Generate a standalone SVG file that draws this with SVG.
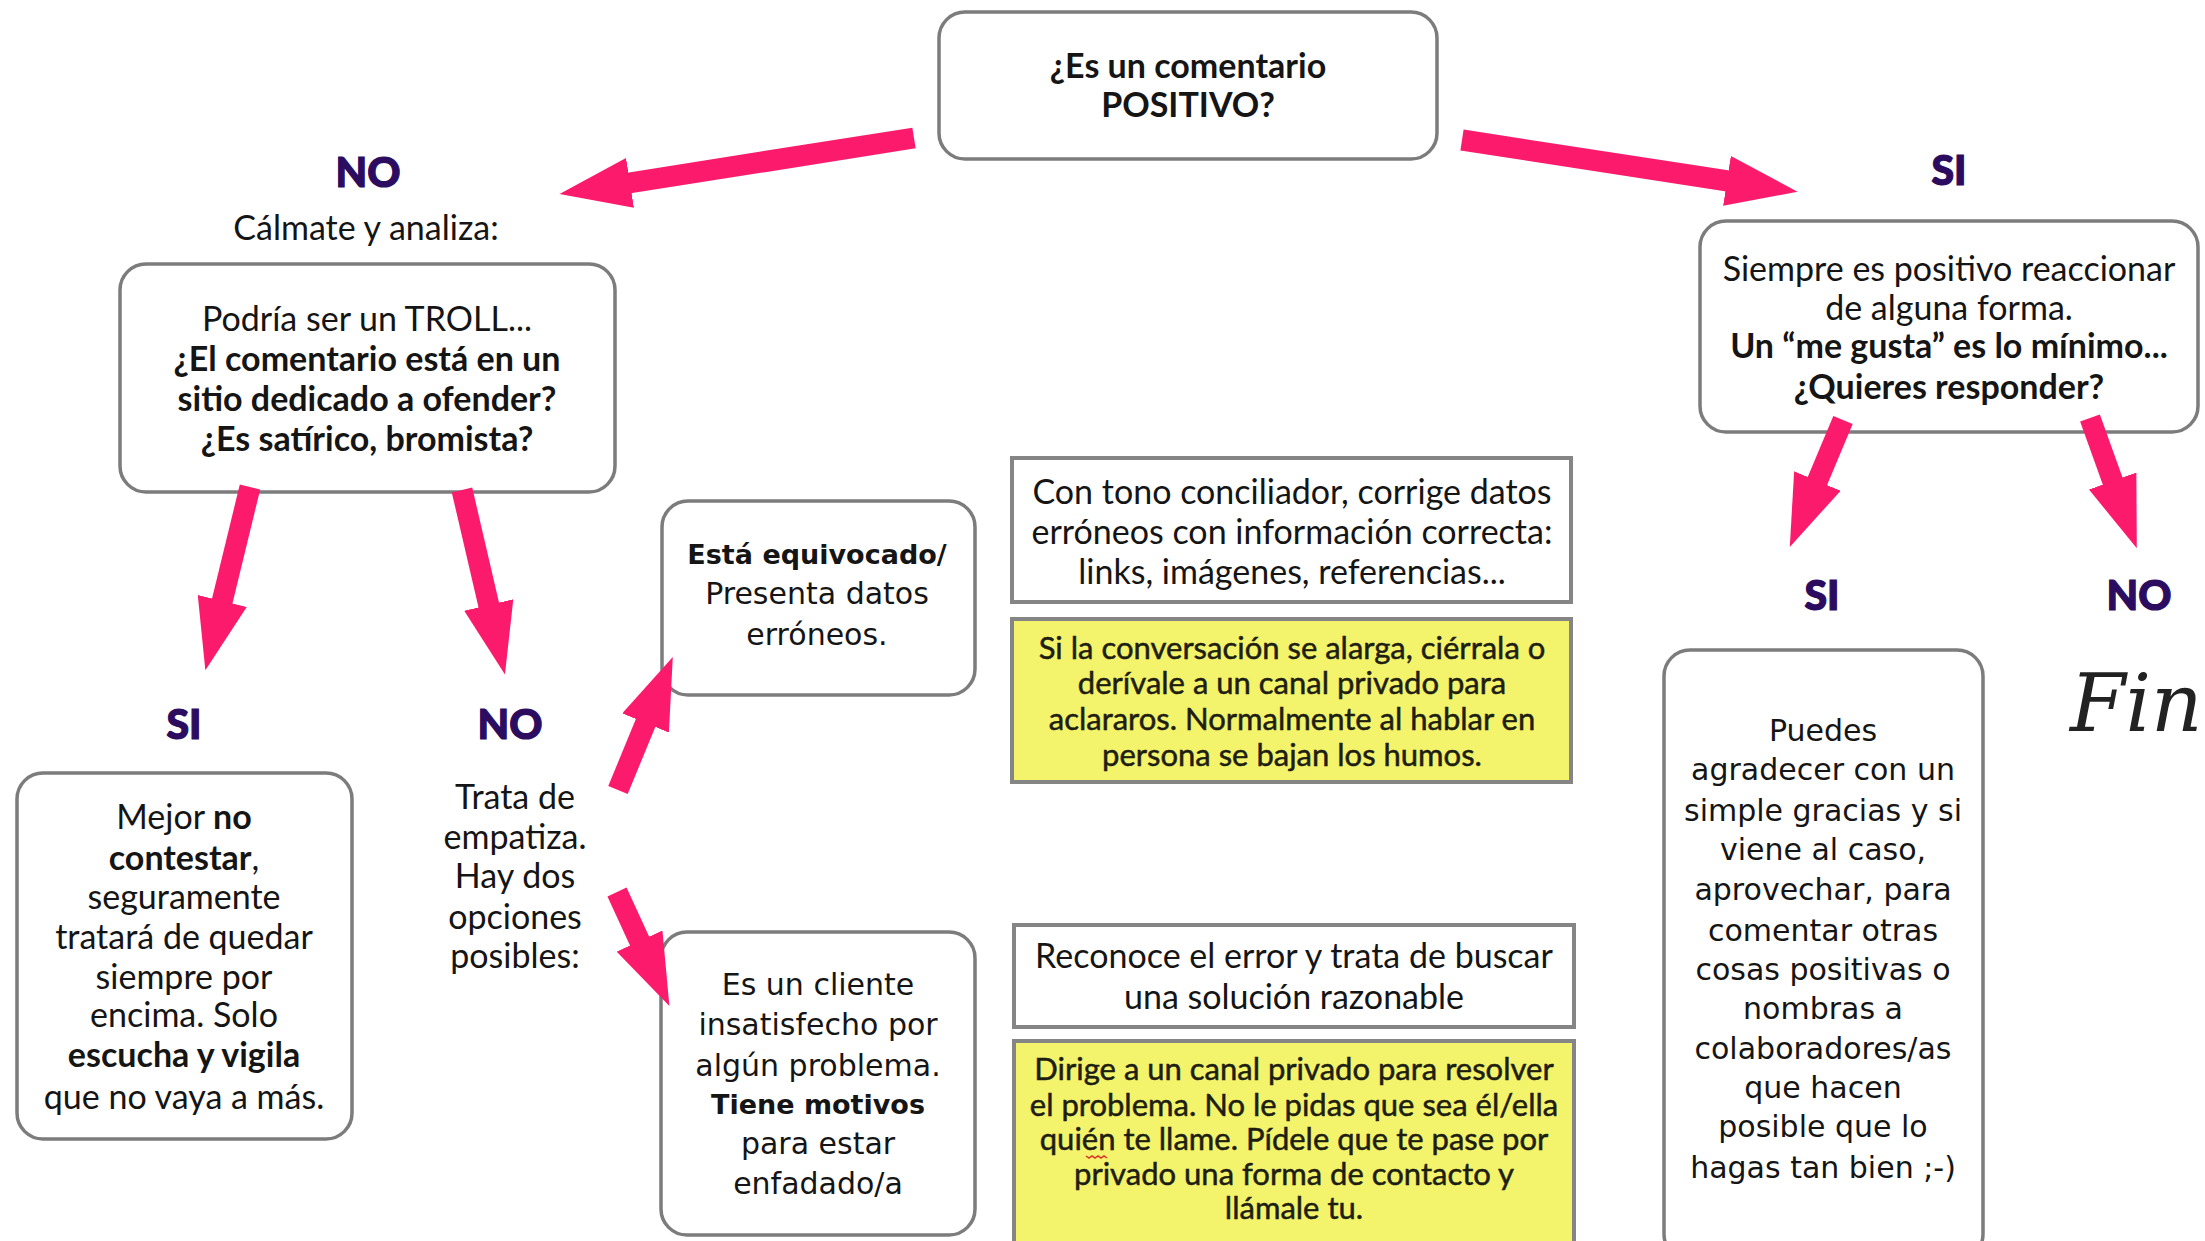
<svg xmlns="http://www.w3.org/2000/svg" width="2205" height="1241" viewBox="0 0 2205 1241">
<defs>
<style>
.box{fill:#fff;stroke:#7c7c7c;stroke-width:3.5}
.sq{fill:#fff;stroke:#858585;stroke-width:4}
.yel{fill:#F3F36C;stroke:#858585;stroke-width:4}
.t{font-family:Lato,'Liberation Sans',sans-serif;font-size:34px;fill:#151515;text-anchor:middle}
.v{font-family:'DejaVu Sans',Verdana,sans-serif;font-size:30px;fill:#151515;text-anchor:middle}
.v.b{font-size:27px}
.y{font-family:Lato,'Liberation Sans',sans-serif;font-size:31px;fill:#1e1e10;stroke:#1e1e10;stroke-width:0.5;text-anchor:middle}
.b{font-weight:700}
.lbl{font-family:Lato,'Liberation Sans',sans-serif;font-weight:900;font-size:41px;fill:#2B0C5F;stroke:#2B0C5F;stroke-width:1.2;text-anchor:middle}
.arr{stroke:#FC1A6C;stroke-width:21;fill:none;marker-end:url(#head)}
</style>
<marker id="head" markerUnits="strokeWidth" viewBox="0 0 3.4 2.4" markerWidth="3.4" markerHeight="2.4" refX="0.05" refY="1.2" orient="auto">
<path d="M0,0 L3.4,1.2 L0,2.4 z" fill="#FC1A6C"/>
</marker>
</defs>
<rect width="2205" height="1241" fill="#fff"/>

<g id="q-positivo">
<rect class="box" x="939" y="12" width="498" height="147" rx="26"/>
<text class="t b" x="1188" y="78">¿Es un comentario</text>
<text class="t b" x="1188" y="117">POSITIVO?</text>
</g>

<g id="lbl-no-top">
<text class="lbl" x="368" y="187">NO</text>
<text class="t" x="366" y="240">Cálmate y analiza:</text>
</g>

<g id="troll">
<rect class="box" x="120" y="264" width="495" height="228" rx="26"/>
<text class="t" x="367" y="331">Podría ser un TROLL...</text>
<text class="t b" x="367" y="371">¿El comentario está en un</text>
<text class="t b" x="367" y="411">sitio dedicado a ofender?</text>
<text class="t b" x="367" y="451">¿Es satírico, bromista?</text>
</g>

<g id="lbl-si-left"><text class="lbl" x="184" y="739">SI</text></g>
<g id="lbl-no-left"><text class="lbl" x="510" y="739">NO</text></g>

<g id="mejor-no">
<rect class="box" x="17" y="773" width="335" height="366" rx="26"/>
<text class="t" x="184" y="829">Mejor <tspan class="b">no</tspan></text>
<text class="t" x="184" y="870"><tspan class="b">contestar</tspan>,</text>
<text class="t" x="184" y="909">seguramente</text>
<text class="t" x="184" y="949">tratará de quedar</text>
<text class="t" x="184" y="989">siempre por</text>
<text class="t" x="184" y="1027">encima. Solo</text>
<text class="t b" x="184" y="1067">escucha y vigila</text>
<text class="t" x="184" y="1109">que no vaya a más.</text>
</g>

<g id="trata">
<text class="t" x="515" y="809">Trata de</text>
<text class="t" x="515" y="849">empatiza.</text>
<text class="t" x="515" y="888">Hay dos</text>
<text class="t" x="515" y="929">opciones</text>
<text class="t" x="515" y="968">posibles:</text>
</g>

<g id="equivocado">
<rect class="box" x="662" y="501" width="313" height="194" rx="26"/>
<text class="v b" x="817" y="564">Está equivocado/</text>
<text class="v" x="817" y="604">Presenta datos</text>
<text class="v" x="817" y="645">erróneos.</text>
</g>

<g id="cliente">
<rect class="box" x="661" y="932" width="314" height="303" rx="26"/>
<text class="v" x="818" y="995">Es un cliente</text>
<text class="v" x="818" y="1035">insatisfecho por</text>
<text class="v" x="818" y="1076">algún problema.</text>
<text class="v b" x="818" y="1114">Tiene motivos</text>
<text class="v" x="818" y="1154">para estar</text>
<text class="v" x="818" y="1194">enfadado/a</text>
</g>

<g id="con-tono">
<rect class="sq" x="1012" y="458" width="559" height="144"/>
<text class="t" x="1292" y="504">Con tono conciliador, corrige datos</text>
<text class="t" x="1292" y="544">erróneos con información correcta:</text>
<text class="t" x="1292" y="584">links, imágenes, referencias...</text>
</g>

<g id="si-alarga">
<rect class="yel" x="1012" y="619" width="559" height="163"/>
<text class="y" x="1292" y="659">Si la conversación se alarga, ciérrala o</text>
<text class="y" x="1292" y="694">derívale a un canal privado para</text>
<text class="y" x="1292" y="730">aclararos. Normalmente al hablar en</text>
<text class="y" x="1292" y="766">persona se bajan los humos.</text>
</g>

<g id="reconoce">
<rect class="sq" x="1014" y="925" width="560" height="102"/>
<text class="t" x="1294" y="968">Reconoce el error y trata de buscar</text>
<text class="t" x="1294" y="1009">una solución razonable</text>
</g>

<g id="dirige">
<rect class="yel" x="1014" y="1041" width="560" height="210"/>
<text class="y" x="1294" y="1080">Dirige a un canal privado para resolver</text>
<text class="y" x="1294" y="1116">el problema. No le pidas que sea él/ella</text>
<text class="y" x="1294" y="1150">quién te llame. Pídele que te pase por</text>
<text class="y" x="1294" y="1185">privado una forma de contacto y</text>
<text class="y" x="1294" y="1219">llámale tu.</text>
<path d="M1086,1156 l3,2 l3,-2 l3,2 l3,-2 l3,2 l3,-2 l3,2" fill="none" stroke="#e0302a" stroke-width="1.5"/>
</g>

<g id="lbl-si-top"><text class="lbl" x="1949" y="185">SI</text></g>

<g id="siempre">
<rect class="box" x="1700" y="221" width="498" height="211" rx="26"/>
<text class="t" x="1949" y="281">Siempre es positivo reaccionar</text>
<text class="t" x="1949" y="320">de alguna forma.</text>
<text class="t b" x="1949" y="358">Un “me gusta” es lo mínimo...</text>
<text class="t b" x="1949" y="399">¿Quieres responder?</text>
</g>

<g id="lbl-si-right"><text class="lbl" x="1822" y="610">SI</text></g>
<g id="lbl-no-right"><text class="lbl" x="2139" y="610">NO</text></g>

<g id="puedes">
<rect class="box" x="1664" y="650" width="319" height="610" rx="26"/>
<text class="v" x="1823" y="741">Puedes</text>
<text class="v" x="1823" y="780">agradecer con un</text>
<text class="v" x="1823" y="821">simple gracias y si</text>
<text class="v" x="1823" y="860">viene al caso,</text>
<text class="v" x="1823" y="900">aprovechar, para</text>
<text class="v" x="1823" y="941">comentar otras</text>
<text class="v" x="1823" y="980">cosas positivas o</text>
<text class="v" x="1823" y="1019">nombras a</text>
<text class="v" x="1823" y="1059">colaboradores/as</text>
<text class="v" x="1823" y="1098">que hacen</text>
<text class="v" x="1823" y="1137">posible que lo</text>
<text class="v" x="1823" y="1178">hagas tan bien ;-)</text>
</g>

<g id="fin">
<text x="2070" y="731" font-family="'DejaVu Serif','Liberation Serif',serif" font-style="italic" font-size="80" fill="#222">Fin</text>
</g>

<g id="connectors">
<path class="arr" d="M914,138 L629,183"/>
<path class="arr" d="M1462,140 L1728,181"/>
<path class="arr" d="M250,487 L222,602"/>
<path class="arr" d="M462,490 L489,606"/>
<path class="arr" d="M618,790 L646,722"/>
<path class="arr" d="M617,892 L640,942"/>
<path class="arr" d="M1843,420 L1817,482"/>
<path class="arr" d="M2090,418 L2113,482"/>
</g>
</svg>
